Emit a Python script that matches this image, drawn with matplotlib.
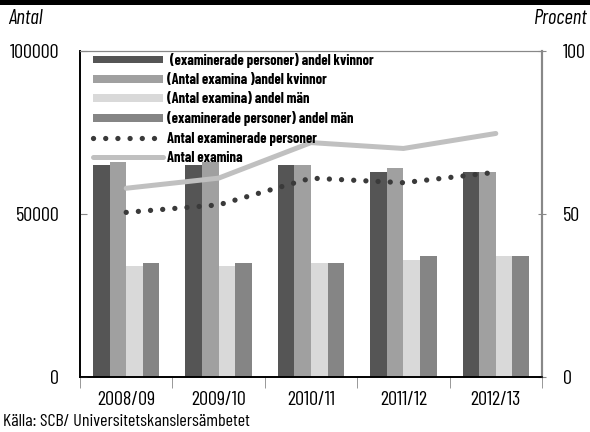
import numpy as np
import matplotlib
matplotlib.use('Agg')
import matplotlib.pyplot as plt
from matplotlib.patches import Rectangle

plt.rcParams['font.family'] = ['Barlow Condensed', 'Liberation Sans Narrow', 'DejaVu Sans']

years = ['2008/09', '2009/10', '2010/11', '2011/12', '2012/13']

# andel i procent (höger axel)
pers_kvinnor = [65, 65, 65, 63, 63]
exam_kvinnor = [66, 66, 65, 64, 63]
exam_man = [34, 34, 35, 36, 37]
pers_man = [35, 35, 35, 37, 37]

# antal (vänster axel)
antal_personer = [50500, 52800, 61000, 59600, 62800]
antal_examina = [57900, 61000, 71900, 70100, 74700]

fig = plt.figure(figsize=(5.9, 4.32), dpi=100)
ax = fig.add_axes([80/590, 1-377/432, 462/590, 326/432])
ax2 = ax.twinx()

x = np.arange(len(years))
w = 0.18
ax.bar(x - 1.5*w, pers_kvinnor, w, color='#555555', label=' (examinerade personer) andel kvinnor')
ax.bar(x - 0.5*w, exam_kvinnor, w, color='#a0a0a0', label='(Antal examina )andel kvinnor')
ax.bar(x + 0.5*w, exam_man, w, color='#d9d9d9', label='(Antal examina) andel män')
ax.bar(x + 1.5*w, pers_man, w, color='#858585', label='(examinerade personer) andel män')
ax.set_ylim(0, 100)
ax.set_yticks([0, 50, 100])
ax.yaxis.tick_right()

ax2.plot(x, antal_personer, color='#3a3a3a', lw=3.8, linestyle=(0, (0.01, 2.3)),
         dash_capstyle='round', label='Antal examinerade personer')
ax2.plot(x, antal_examina, color='#c0c0c0', lw=3.6, solid_capstyle='round', label='Antal examina')
ax2.set_ylim(0, 100000)
ax2.set_yticks([0, 50000, 100000])
ax2.yaxis.tick_left()
ax2.set_xlim(-0.5, 4.5)
ax.set_xlim(-0.5, 4.5)

ax.set_xticks(x)
ax.set_xticklabels(years, fontsize=14.5)
ax.set_xticks(np.arange(-0.5, 5, 1), minor=True)
ax.tick_params(axis='x', which='major', length=0, pad=10)
ax.tick_params(axis='x', which='minor', length=8, color='#888888', direction='out')
ax.tick_params(axis='y', labelsize=14.5, length=6, color='#888888', direction='inout', pad=12)
ax2.tick_params(axis='y', labelsize=14.5, length=5, color='#888888', direction='in', pad=15)

for a in (ax, ax2):
    a.spines['left'].set_color('black')
    a.spines['bottom'].set_color('black')
    a.spines['top'].set_color('#888888')
    a.spines['right'].set_color('#888888')
    a.spines['left'].set_linewidth(1.2)
    a.spines['bottom'].set_linewidth(1.2)
    a.spines['right'].set_linewidth(1.5)

h1, l1 = ax.get_legend_handles_labels()
h2, l2 = ax2.get_legend_handles_labels()
ax2.legend(h1 + h2, l1 + l2, loc='upper left', bbox_to_anchor=(0.028, 0.995),
           frameon=False, borderpad=0, borderaxespad=0, handlelength=4.8,
           handleheight=0.45, handletextpad=0.3, labelspacing=0.36,
           prop={'family': ['Barlow Condensed', 'Liberation Sans Narrow', 'DejaVu Sans'],
                 'weight': 'bold', 'size': 10.5})

fig.text(8/590, 1-18/432, 'Antal', fontsize=15, style='italic', va='center', ha='left')
fig.text(588/590, 1-18/432, 'Procent', fontsize=15, style='italic', va='center', ha='right')
fig.text(3/590, 1-422/432, 'Källa: SCB/ Universitetskanslersämbetet', fontsize=13, va='center', ha='left')

fig.patches.append(Rectangle((0, 1-5/432), 1, 5/432, transform=fig.transFigure,
                             facecolor='black', edgecolor='none', figure=fig))

fig.savefig('out.png', dpi=100)
